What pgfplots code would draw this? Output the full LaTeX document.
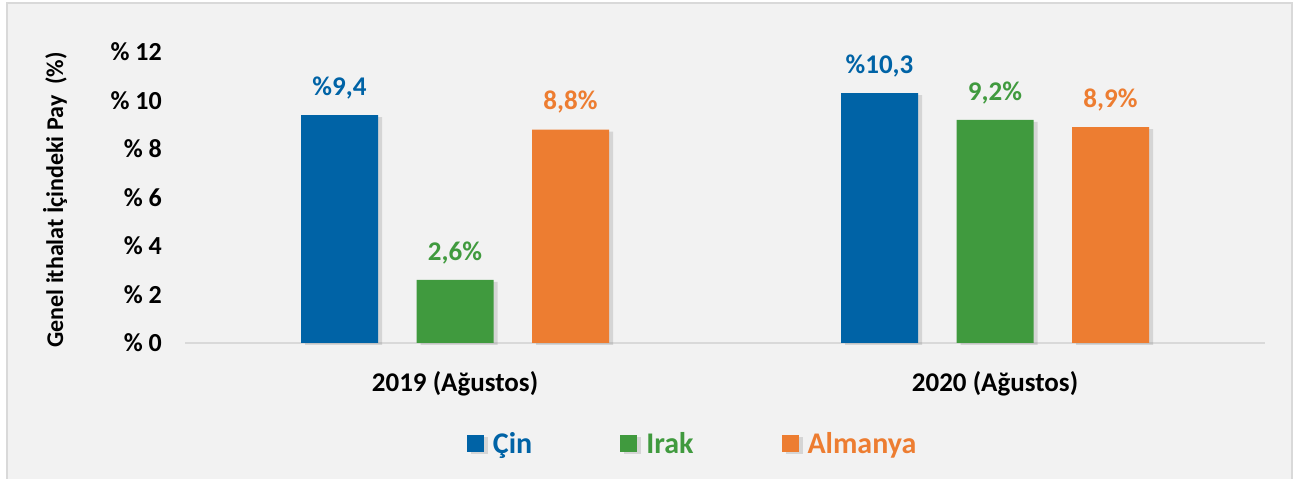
\documentclass[border=0pt]{standalone}
\usepackage{fontspec}
\setmainfont{Carlito}
\usepackage{pgfplots}
\pgfplotsset{compat=1.18}
\usetikzlibrary{shadows}
\definecolor{cblue}{RGB}{0,99,166}
\definecolor{cgreen}{RGB}{64,154,62}
\definecolor{corange}{RGB}{237,125,49}
\definecolor{bg}{RGB}{242,242,242}
\definecolor{frame}{RGB}{217,217,217}
\begin{document}
\begin{tikzpicture}
\useasboundingbox (0pt,0pt) rectangle (1298pt,479pt);
\fill[white] (0pt,0pt) rectangle (1298pt,479pt);
\filldraw[fill=bg, draw=frame, line width=1.5pt] (7pt,-10pt) rectangle (1292pt,476pt);
\node[rotate=90, font=\fontsize{24}{28}\selectfont\bfseries] at (55pt,279pt) {Genel ithalat İçindeki Pay\ \ (\%)};
\begin{axis}[
  at={(185pt,136pt)}, anchor=south west,
  scale only axis, width=1080pt, height=291pt,
  xmin=-0.5, xmax=1.5, ymin=0, ymax=12,
  clip=false,
  ybar=38.5pt, bar width=77pt,
  axis x line*=bottom, axis y line*=left,
  x axis line style={draw=frame, line width=1.5pt, -},
  y axis line style={draw=none},
  xtick={0,1}, xticklabels={2019 (Ağustos), 2020 (Ağustos)},
  ytick={0,2,4,6,8,10,12},
  yticklabels={{\% 0},{\% 2},{\% 4},{\% 6},{\% 8},{\% 10},{\% 12}},
  tick style={draw=none},
  yticklabel style={anchor=east, inner sep=0pt, xshift=-23pt, font=\fontsize{26}{30}\selectfont\bfseries},
  xticklabel style={anchor=north, inner sep=0pt, yshift=-24pt, font=\fontsize{27}{31}\selectfont\bfseries},
  point meta=explicit symbolic,
  nodes near coords,
  every node near coord/.append style={anchor=south, inner sep=0pt, yshift=16pt, font=\fontsize{27}{31}\selectfont\bfseries},
  legend columns=3,
  legend style={draw=none, fill=none, at={(0.471,-0.347)}, anchor=center,
    font=\fontsize{30}{35}\selectfont\bfseries,
    nodes={inner sep=4pt},
    /tikz/every odd column/.append style={column sep=5pt},
    /tikz/every even column/.append style={column sep=84pt}},
  legend image code/.code={\fill[#1] (0pt,-8.5pt) rectangle (17pt,8.5pt);},
]
\addplot[fill=cblue, draw=none, every node near coord/.append style={text=cblue},
  drop shadow={shadow xshift=4pt, shadow yshift=-2pt, opacity=0.25}]
  coordinates {(0,9.4) [{\%9,4}] (1,10.3) [{\%10,3}]};
\addlegendentry{\textcolor{cblue}{Çin}}
\addplot[fill=cgreen, draw=none, every node near coord/.append style={text=cgreen},
  drop shadow={shadow xshift=4pt, shadow yshift=-2pt, opacity=0.25}]
  coordinates {(0,2.6) [{2,6\%}] (1,9.2) [{9,2\%}]};
\addlegendentry{\textcolor{cgreen}{Irak}}
\addplot[fill=corange, draw=none, every node near coord/.append style={text=corange},
  drop shadow={shadow xshift=4pt, shadow yshift=-2pt, opacity=0.25}]
  coordinates {(0,8.8) [{8,8\%}] (1,8.9) [{8,9\%}]};
\addlegendentry{\textcolor{corange}{Almanya}}
\end{axis}
\end{tikzpicture}
\end{document}
